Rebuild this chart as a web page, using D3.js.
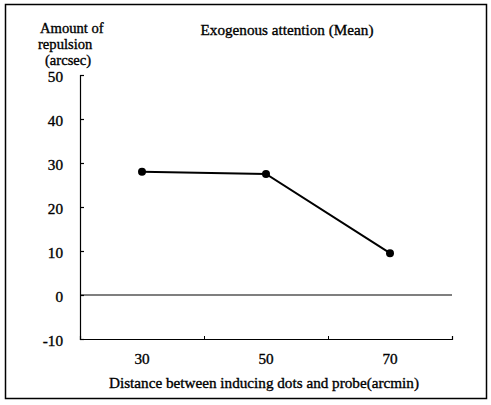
<!DOCTYPE html>
<html>
<head>
  <title>Exogenous attention (Mean)</title>
  <script src="https://cdn.jsdelivr.net/npm/d3@7"></script>
  <style>
    body { margin: 0; background: #fff; }
  </style>
</head>
<body>
  <svg width="491" height="405" id="mainsvg"></svg>
  <script>
    // data
    const distances = [30, 50, 70];
    const repulsion = [28.0, 27.5, 9.5];
    const yTicks = [-10, 0, 10, 20, 30, 40, 50];
    const xTickLabels = [30, 50, 70];
    const xTickMarks = [40, 60, 80];

    const svg = d3.select('#mainsvg');
    const fs = 15.2;
    const serif = "'Liberation Serif', 'Times New Roman', 'DejaVu Serif', serif";

    // helper so every label gets the same look (scan text is a bit heavy)
    const label = (sel, size = fs) => sel
      .attr('font-family', serif)
      .attr('font-size', size)
      .attr('fill', '#000')
      .attr('stroke', '#000')
      .attr('stroke-width', 0.35);

    // outer frame
    svg.append('rect')
      .attr('x', 5.5).attr('y', 4.5)
      .attr('width', 481).attr('height', 394)
      .attr('fill', 'none').attr('stroke', '#000').attr('stroke-width', 1.5);

    const xScale = d3.scaleLinear().domain([20, 80]).range([80, 452]);
    const yScale = d3.scaleLinear().domain([-10, 50]).range([339, 75]);

    // y axis with inward ticks
    const yAxis = d3.axisRight(yScale).tickValues(yTicks).tickSize(4).tickFormat('');
    const yg = svg.append('g').attr('transform', 'translate(80,0)').call(yAxis);
    yg.select('.domain').attr('stroke-width', 1.2);
    yg.selectAll('.tick line').attr('stroke-width', 1.2);

    svg.selectAll('.ylab').data(yTicks).enter().append('text')
      .attr('class', 'ylab')
      .attr('x', 63)
      .attr('y', d => yScale(d) + 7)
      .attr('text-anchor', 'end')
      .call(label)
      .text(d => d);

    // bottom axis at -10
    const xAxis = d3.axisTop(xScale).tickValues(xTickMarks).tickSize(3).tickFormat('');
    const xg = svg.append('g').attr('transform', `translate(0,${yScale(-10)})`).call(xAxis);
    xg.select('.domain').attr('stroke-width', 1.2);

    svg.selectAll('.xlab').data(xTickLabels).enter().append('text')
      .attr('class', 'xlab')
      .attr('x', d => xScale(d))
      .attr('y', 364)
      .attr('text-anchor', 'middle')
      .call(label)
      .text(d => d);

    // zero line
    svg.append('line')
      .attr('x1', xScale(20)).attr('x2', xScale(80))
      .attr('y1', yScale(0)).attr('y2', yScale(0))
      .attr('stroke', '#000').attr('stroke-width', 1.2);

    // series
    const pts = distances.map((d, i) => ({ x: d, y: repulsion[i] }));
    svg.append('path')
      .datum(pts)
      .attr('fill', 'none').attr('stroke', '#000').attr('stroke-width', 2)
      .attr('d', d3.line().x(d => xScale(d.x)).y(d => yScale(d.y)));
    svg.selectAll('circle').data(pts).enter().append('circle')
      .attr('cx', d => xScale(d.x))
      .attr('cy', d => yScale(d.y))
      .attr('r', 4)
      .attr('fill', '#000');

    // titles
    svg.append('text').attr('x', 287).attr('y', 35)
      .attr('text-anchor', 'middle').call(label)
      .text('Exogenous attention (Mean)');

    const yTitle = ['Amount of', 'repulsion', '(arcsec)'];
    const yTitleX = [40, 38, 45];
    const yTitleY = [32.5, 49, 65];
    yTitle.forEach((t, i) => {
      svg.append('text').attr('x', yTitleX[i]).attr('y', yTitleY[i])
        .call(label, 14.6).text(t);
    });

    svg.append('text').attr('x', 264).attr('y', 388)
      .attr('text-anchor', 'middle').call(label)
      .text('Distance between inducing dots and probe(arcmin)');
  </script>
</body>
</html>
